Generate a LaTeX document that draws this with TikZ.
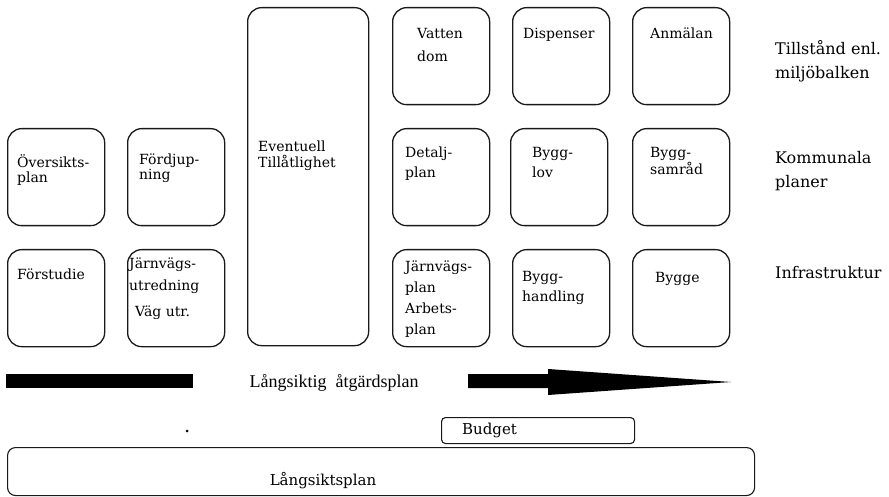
\documentclass[tikz,border=0pt]{standalone}
\usepackage{fontspec}
\setmainfont{DejaVu Serif}
\newfontfamily\timesfont{Liberation Serif}
\usetikzlibrary{calc}
\usetikzlibrary{positioning}

\tikzset{
  box/.style={draw=black!90, line width=1.3pt, rounded corners=14pt, anchor=north west, inner sep=0pt, minimum width=97pt, minimum height=97pt},
  boxtext/.style={anchor=north west, inner sep=0pt, align=left},
  side/.style={anchor=north west, inner sep=0pt, align=left, font=\fontsize{16}{24}\selectfont},
  bar/.style={fill=black},
}

\begin{document}
\begin{tikzpicture}[x=1pt, y=-1pt]
\useasboundingbox (0,0) rectangle (889,497);
\foreach \nm/\x/\y in {ovs/7/128, fdj/127/128, fst/7/249, jvu/127/249, vat/392/7, dis/512/7, anm/632/7, det/392/128, lov/510/128, sam/632/128, jvp/392/249, hnd/512/249, byg/632/249}
 \node[box] (\nm) at (\x,\y) {};
\node[box, minimum width=121pt, minimum height=338pt] (evt) at (247,7) {};
\foreach \nm/\dx/\dy/\ls/\txt in {ovs/10/26/15/{Översikts-\\plan}, fdj/12/26/15/{Fördjup-\\ning}, fst/10/20/15/{Förstudie}, jvu/2/9/22/{Järnvägs-\\utredning\\[4pt]\hspace*{6pt}Väg utr.}, evt/11/134/16/{Eventuell\\Tillåtlighet}, vat/25/21/23/{Vatten\\dom}, dis/11/21/15/{Dispenser}, anm/18/21/15/{Anmälan}, det/13/19/20/{Detalj-\\plan}, lov/22/19/20/{Bygg-\\lov}, sam/18/19/17/{Bygg-\\samråd}, jvp/13/12/21/{Järnvägs-\\plan\\Arbets-\\plan}, hnd/10/22/20/{Bygg-\\handling}, byg/23/23/15/{Bygge}}
 \node[boxtext, font=\fontsize{14}{\ls}\selectfont] (\nm-t) at ([shift={(\dx,\dy)}]\nm.north west) {\txt};
\node[side] (tml) at (775,40) {Tillstånd enl.\\miljöbalken};
\node[side] (kom) at (775,151) {Kommunala\\planer};
\node[side] (inf) at (775,266) {Infrastruktur};
\fill[bar] (6,374) rectangle (193,388);
\node[inner sep=0pt, font=\timesfont\fontsize{18}{20}\selectfont] (ats) at (334,383) {Långsiktig\ \ åtgärdsplan};
\fill[bar] (468,374) --++(80,0) --++(0,-5) -- (731,382) -- (548,395) --++(0,-7) -- (468,388) -- cycle;
\fill (187,431) circle (1.5pt);
\node[draw=black!90, line width=1.1pt, rounded corners=4pt, anchor=north west, inner sep=0pt, minimum width=193pt, minimum height=26pt] (bud) at (441,417) {};
\node[anchor=west, inner sep=0pt, font=\fontsize{15}{17}\selectfont] (bud-t) at ([xshift=21]bud.west) {Budget};
\node[draw=black!90, line width=1.1pt, rounded corners=8pt, anchor=north west, inner sep=0pt, minimum width=747pt, minimum height=48pt] (lsp) at (7,447) {};
\node[inner sep=0pt, font=\fontsize{15}{17}\selectfont] (lsp-t) at (323,481) {Långsiktsplan};
\end{tikzpicture}
\end{document}
